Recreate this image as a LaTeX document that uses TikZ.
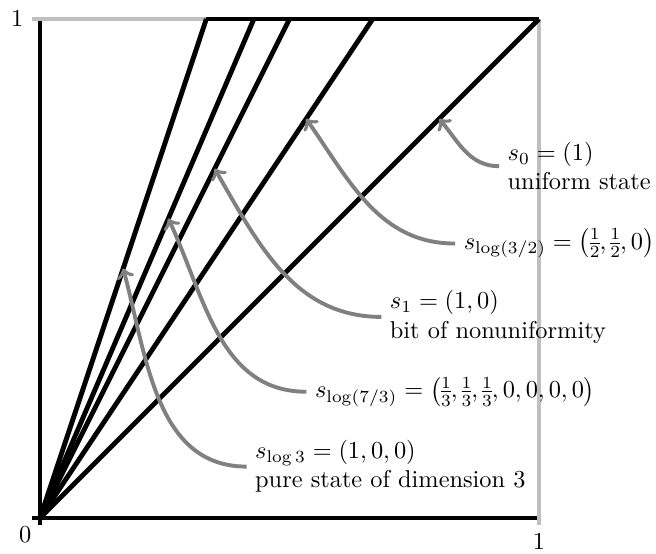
\documentclass[tikz,border=0pt]{standalone}
\usepackage{amsmath}
\usepackage{tikz}
\usetikzlibrary{calc}

\begin{document}
\begin{tikzpicture}[x=7.2cm, y=7.2cm,
    axis/.style={line width=2pt},
    rim/.style={line width=2pt, black!25},
    pointer/.style={->, line width=1.6pt, gray},
    tag/.style={anchor=west, align=left, execute at begin node={\nulldelimiterspace=0pt}}]
    \useasboundingbox (-0.0802,-0.0721) rectangle (1.2345,1.0381);

    \coordinate (O) at (0,0);
    \coordinate (xl) at (-0.016,0);
    \coordinate (yb) at (0,-0.014);
    \coordinate (x1) at (1,0);
    \coordinate (y1) at (0,1);
    \coordinate (tl) at (-0.016,1);
    \coordinate (rb) at (1,-0.014);

    \coordinate (t0) at (1,1);
    \coordinate (t32) at (2/3,1);
    \coordinate (t1) at (1/2,1);
    \coordinate (t73) at (3/7,1);
    \coordinate (t3) at (1/3,1);

    % axes and the grey rim
    \draw[axis] (xl) -- (x1);
    \draw[axis] (yb) -- (y1);
    \draw[rim] (tl) -- (t0);
    \draw[rim] (rb) -- (t0);
    \draw[axis] (t3) -- (t0);

    % rays
    \foreach \t in {t0,t32,t1,t73,t3}
        \draw[axis] (O) -- (\t);

    \node[left] (ylab) at (tl) {$1$};
    \node[below left] (zero) at (O) {$0$};
    \node[below] (xlab) at (rb) {$1$};

    % labels
    \node[tag] (s0) at (0.92,0.705) {$s_0=(1)$\\uniform state};
    \node[tag] (s32) at (0.832,0.55) {$s_{\log(3/2)}=\bigl(\tfrac12,\tfrac12,0\bigr)$};
    \node[tag] (s1) at (0.684,0.403) {$s_1=(1,0)$\\bit of nonuniformity};
    \node[tag] (s73) at (0.534,0.253) {$s_{\log(7/3)}=\bigl(\tfrac13,\tfrac13,\tfrac13,0,0,0,0\bigr)$};
    \node[tag] (s3) at (0.414,0.103) {$s_{\log 3}=(1,0,0)$\\pure state of dimension 3};

    \coordinate (p0) at ($(O)!0.8!(t0)$);
    \coordinate (p32) at ($(O)!0.8!(t32)$);
    \coordinate (p1) at ($(O)!0.7!(t1)$);
    \coordinate (p73) at ($(O)!0.6!(t73)$);
    \coordinate (p3) at ($(O)!0.5!(t3)$);

    \draw[pointer] (s0.west) to[out=180, in=-50] (p0);
    \draw[pointer] (s32.west) to[out=180, in=-55] (p32);
    \draw[pointer] (s1.west) to[out=180, in=-60] (p1);
    \draw[pointer] (s73.west) to[out=180, in=-65] (p73);
    \draw[pointer] (s3.west) to[out=180, in=-75] (p3);
\end{tikzpicture}
\end{document}
